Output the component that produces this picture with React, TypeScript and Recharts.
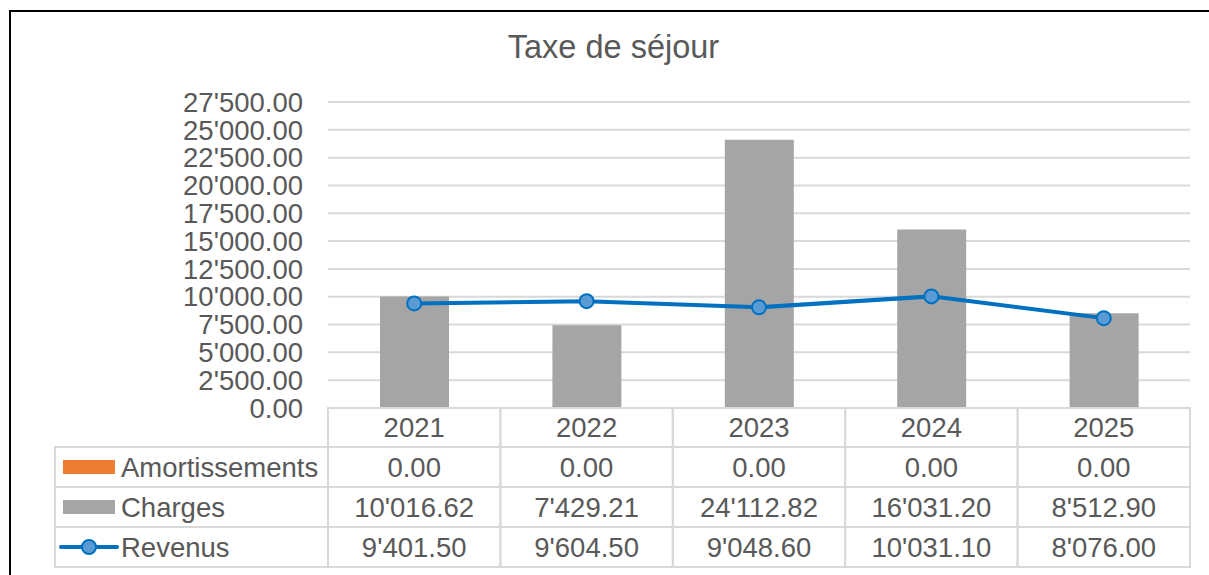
import { ComposedChart, Bar, Line, XAxis, YAxis, CartesianGrid } from 'recharts'

const years = ['2021', '2022', '2023', '2024', '2025']
const amortissements = [0, 0, 0, 0, 0]
const charges = [10016.62, 7429.21, 24112.82, 16031.2, 8512.9]
const revenus = [9401.5, 9604.5, 9048.6, 10031.1, 8076.0]
const yTicks = [0, 2500, 5000, 7500, 10000, 12500, 15000, 17500, 20000, 22500, 25000, 27500]

const data = years.map((y, i) => ({
  year: y,
  amortissements: amortissements[i],
  charges: charges[i],
  revenus: revenus[i],
}))

const W = 1209
const H = 575
const PLOT_LEFT = 328
const PLOT_RIGHT = 19
const COL_W = (W - PLOT_LEFT - PLOT_RIGHT) / years.length
const ROW_H = 40
const HEAD_H = 39
const LEGEND_LEFT = 55
const FS = 27.5

const FONT = '"Liberation Sans", Arial, sans-serif'
const TXT = '#595959'
const GRID = '#D9D9D9'
const ORANGE = '#ED7D31'
const GREY = '#A5A5A5'
const BLUE = '#0070C0'
const BLUE_FILL = '#5B9BD5'

const fmt = (v: number) => {
  const [i, d] = v.toFixed(2).split('.')
  return i.replace(/\B(?=(\d{3})+(?!\d))/g, "'") + '.' + d
}

const rows = [
  { name: 'Amortissements', values: amortissements },
  { name: 'Charges', values: charges },
  { name: 'Revenus', values: revenus },
]

const LegendKey = ({ idx, x, cy }: { idx: number; x: number; cy: number }) => {
  if (idx === 0) return <rect x={x + 8} y={cy - 7} width={52} height={14} fill={ORANGE} />
  if (idx === 1) return <rect x={x + 8} y={cy - 7} width={52} height={14} fill={GREY} />
  return (
    <g>
      <line x1={x + 6} x2={x + 62} y1={cy} y2={cy} stroke={BLUE} strokeWidth={4} strokeLinecap="round" />
      <circle cx={x + 34} cy={cy} r={7} fill={BLUE_FILL} stroke={BLUE} strokeWidth={2} />
    </g>
  )
}

// x axis tick draws the data table column under each year
const TableTick = ({ x, y, payload, index }: any) => {
  const left = x - COL_W / 2
  const i = index as number
  return (
    <g>
      <rect x={left} y={y} width={COL_W} height={HEAD_H} fill="none" stroke={GRID} strokeWidth={2} />
      <text x={x} y={y + HEAD_H / 2} textAnchor="middle" dominantBaseline="central" fill={TXT} fontSize={FS} fontFamily={FONT}>
        {payload.value}
      </text>
      {rows.map((r, k) => {
        const top = y + HEAD_H + k * ROW_H
        return (
          <g key={r.name}>
            <rect x={left} y={top} width={COL_W} height={ROW_H} fill="none" stroke={GRID} strokeWidth={2} />
            <text x={x} y={top + ROW_H / 2} textAnchor="middle" dominantBaseline="central" fill={TXT} fontSize={FS} fontFamily={FONT}>
              {fmt(r.values[i])}
            </text>
          </g>
        )
      })}
      {i === 0 &&
        rows.map((r, k) => {
          const top = y + HEAD_H + k * ROW_H
          return (
            <g key={'lg' + r.name}>
              <rect x={LEGEND_LEFT} y={top} width={PLOT_LEFT - LEGEND_LEFT} height={ROW_H} fill="none" stroke={GRID} strokeWidth={2} />
              <LegendKey idx={k} x={LEGEND_LEFT} cy={top + ROW_H / 2} />
              <text x={LEGEND_LEFT + 66} y={top + ROW_H / 2} dominantBaseline="central" fill={TXT} fontSize={FS} fontFamily={FONT}>
                {r.name}
              </text>
            </g>
          )
        })}
    </g>
  )
}

export default function App() {
  return (
    <div style={{ position: 'absolute', left: 0, top: 0, width: W, height: H, overflow: 'hidden', background: '#fff', fontFamily: FONT }}>
      <div style={{ position: 'absolute', left: 9, top: 10, width: 1400, height: 800, border: '2px solid #000' }} />
      <div style={{ position: 'absolute', left: 9, width: W, top: 29, textAlign: 'center', fontSize: 32.5, color: TXT, fontFamily: FONT }}>
        Taxe de séjour
      </div>
      <div style={{ position: 'absolute', left: 0, top: 0 }}>
        <ComposedChart width={W} height={H} data={data} margin={{ top: 102, right: PLOT_RIGHT, bottom: 8, left: 0 }}>
          <CartesianGrid vertical={false} stroke={GRID} strokeWidth={2} />
          <XAxis
            dataKey="year"
            height={HEAD_H + ROW_H * 3}
            axisLine={{ stroke: GRID, strokeWidth: 2 }}
            tickLine={false}
            tickSize={0}
            tickMargin={0}
            interval={0}
            tick={<TableTick />}
          />
          <YAxis
            width={PLOT_LEFT}
            domain={[0, 27500]}
            ticks={yTicks}
            axisLine={false}
            tickLine={false}
            tickSize={0}
            tickMargin={25}
            interval={0}
            tickFormatter={fmt}
            tick={{ fill: TXT, fontSize: FS, fontFamily: FONT }}
          />
          <Bar dataKey="amortissements" stackId="a" fill={ORANGE} barSize={69} isAnimationActive={false} />
          <Bar dataKey="charges" stackId="a" fill={GREY} barSize={69} isAnimationActive={false} />
          <Line
            dataKey="revenus"
            stroke={BLUE}
            strokeWidth={4}
            dot={{ r: 7, fill: BLUE_FILL, stroke: BLUE, strokeWidth: 2 }}
            isAnimationActive={false}
          />
        </ComposedChart>
      </div>
    </div>
  )
}
